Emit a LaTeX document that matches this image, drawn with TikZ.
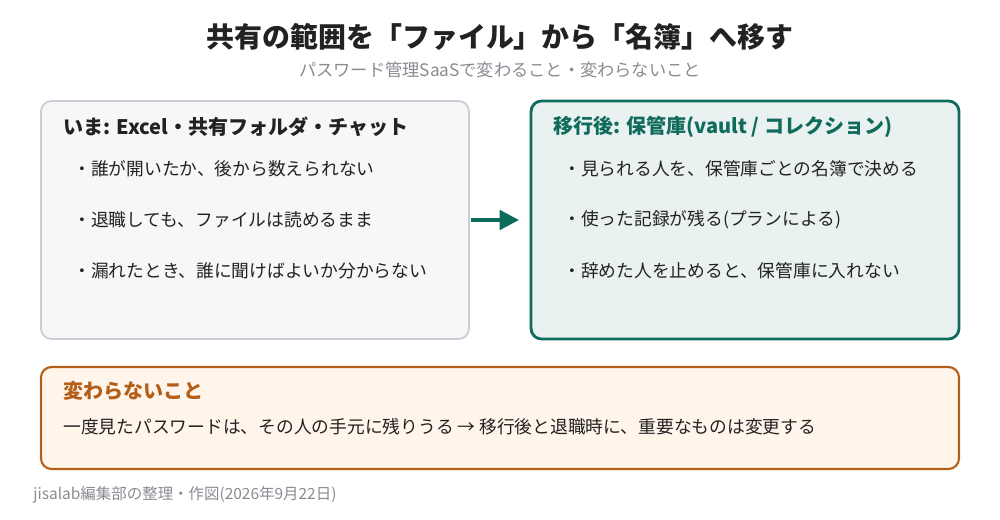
\documentclass[tikz,border=0pt]{standalone}
\usepackage{fontspec}
\setmainfont{Noto Sans CJK JP}
\usetikzlibrary{arrows.meta}
\definecolor{teal}{HTML}{0F6B5C}
\definecolor{brn}{HTML}{B35F1A}
\definecolor{txt}{HTML}{222222}
\definecolor{gry}{HTML}{888C92}
\definecolor{lfill}{HTML}{F5F7F9}
\definecolor{lline}{HTML}{C9CED6}
\begin{document}
\begin{tikzpicture}[x=0.02cm,y=-0.02cm,
  box/.style={rounded corners=6pt,line width=1pt},
  hd/.style={anchor=west,font=\fontsize{11.4}{13}\selectfont\bfseries,inner sep=0},
  bl/.style={anchor=west,font=\fontsize{10.1}{12}\selectfont,text=txt,inner sep=0}]
\path[use as bounding box,fill=white] (0,0) rectangle (1000,520);
\node[font=\fontsize{15.9}{18}\selectfont\bfseries,text=txt] (title) at (500,37) {共有の範囲を「ファイル」から「名簿」へ移す};
\node[font=\fontsize{9.8}{11}\selectfont,text=gry] (sub) at (500,70) {パスワード管理SaaSで変わること・変わらないこと};
\draw[box,draw=lline,fill=lfill] (41,101) rectangle (469,339);
\node[hd,text=txt] (lh) at (63,127) {いま: Excel・共有フォルダ・チャット};
\node[bl] (l1) at (73,169) {・誰が開いたか、後から数えられない};
\node[bl] (l2) at (73,220) {・退職しても、ファイルは読めるまま};
\node[bl] (l3) at (73,271) {・漏れたとき、誰に聞けばよいか分からない};
\draw[box,draw=teal,line width=1.6pt,fill=teal!9] (531,101) rectangle (959,339);
\node[hd,text=teal] (rh) at (553,127) {移行後: 保管庫(vault / コレクション)};
\node[bl] (r1) at (563,169) {・見られる人を、保管庫ごとの名簿で決める};
\node[bl] (r2) at (563,220) {・使った記録が残る(プランによる)};
\node[bl] (r3) at (563,271) {・辞めた人を止めると、保管庫に入れない};
\coordinate (a1) at (471,220); \coordinate (a2) at (519,220);
\draw[teal,line width=2.2pt,-{Triangle[length=11pt,width=11pt]}] (a1) -- (a2);
\draw[box,draw=brn,line width=1.2pt,fill=orange!8] (41,367) rectangle (959,469);
\node[hd,text=brn] (bh) at (63,391) {変わらないこと};
\node[bl] (b1) at (63,427) {一度見たパスワードは、その人の手元に残りうる → 移行後と退職時に、重要なものは変更する};
\node[anchor=west,inner sep=0,text=gry,font=\fontsize{8.8}{10}\selectfont] (ft) at (33,495) {jisalab編集部の整理・作図(2026年9月22日)};
\end{tikzpicture}
\end{document}
